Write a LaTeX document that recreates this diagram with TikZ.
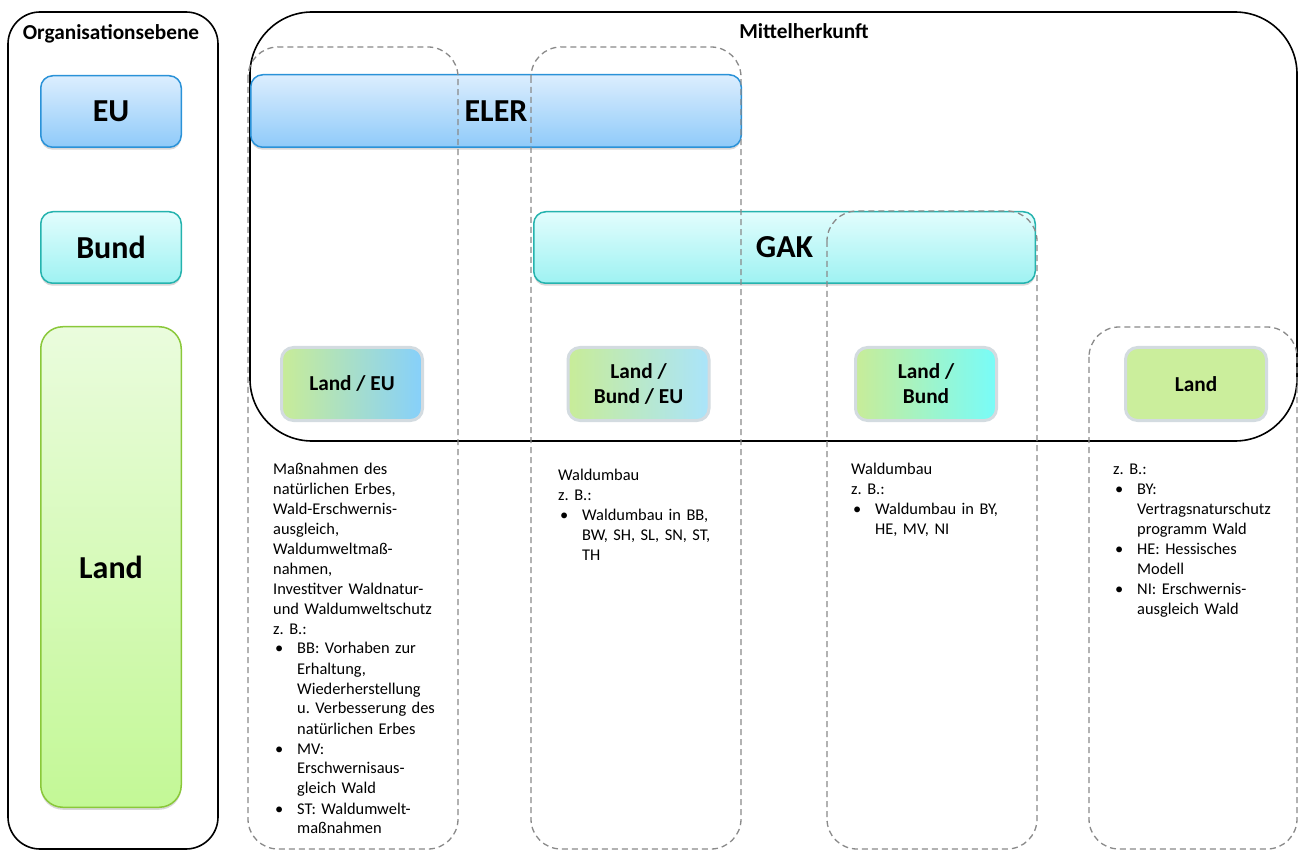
\documentclass[tikz,border=0pt]{standalone}
\usepackage{fontspec}
\setmainfont{Carlito}
\usetikzlibrary{shadows}
\frenchspacing
\definecolor{euTop}{HTML}{DCEEFE}
\definecolor{euBot}{HTML}{8FCAF9}
\definecolor{euLine}{HTML}{2A92D8}
\definecolor{bdTop}{HTML}{E2FDFD}
\definecolor{bdBot}{HTML}{9EF2F2}
\definecolor{bdLine}{HTML}{25B3AE}
\definecolor{ldTop}{HTML}{EAFCDD}
\definecolor{ldBot}{HTML}{C3F896}
\definecolor{ldLine}{HTML}{8AC83A}
\definecolor{smLine}{HTML}{D3DBE0}
\definecolor{smGreen}{HTML}{C8EC98}
\definecolor{smBlue}{HTML}{86D0FB}
\definecolor{smCyan}{HTML}{72FBF7}
\definecolor{smLBlue}{HTML}{AAE4FB}
\definecolor{smCyanB}{HTML}{78FCF9}
\definecolor{smLand}{HTML}{CBEE9C}
\definecolor{dashgray}{HTML}{8A8A8A}
\newcommand{\bul}{\makebox[24pt][l]{\hspace{2pt}\textbullet}}
\newcommand{\ind}{\hspace*{24pt}}
\begin{document}
\frenchspacing
\begin{tikzpicture}[x=1pt,y=-1pt,
  outerbox/.style={draw=black, line width=1.6pt},
  dashbox/.style={draw=dashgray, line width=1.3pt, dash pattern=on 6pt off 4pt, rounded corners=30pt},
  header/.style={font=\fontsize{21.3}{25}\selectfont\bfseries, inner sep=0pt, anchor=base},
  colbox/.style={rectangle, line width=1.5pt, inner sep=0pt,
    font=\fontsize{32}{38}\selectfont\bfseries,
    drop shadow={shadow xshift=0pt, shadow yshift=-2.5pt, opacity=0.25, fill=black!60}},
  eustyle/.style={colbox, draw=euLine, top color=euTop, bottom color=euBot, rounded corners=12pt},
  bundstyle/.style={colbox, draw=bdLine, top color=bdTop, bottom color=bdBot, rounded corners=12pt},
  landstyle/.style={colbox, draw=ldLine, top color=ldTop, bottom color=ldBot, rounded corners=22pt},
  smallbox/.style={rectangle, rounded corners=12pt, draw=smLine, line width=3pt,
    minimum width=141pt, minimum height=73pt, inner sep=0pt, align=center,
    font=\fontsize{21.3}{25}\selectfont\bfseries},
  body/.style={anchor=base west, inner sep=0pt, text width=200pt, align=left,
    font=\fontsize{16.4}{20}\selectfont\frenchspacing}
]
\useasboundingbox (0,0) rectangle (1299,850);
\fill[white] (0,0) rectangle (1299,850);

% outer frames
\draw[outerbox, rounded corners=32pt] (8,12) rectangle (218,849);
\draw[outerbox, rounded corners=62pt] (250,12) rectangle (1297,441);
\node[header] (orgtitle) at (111,39.5) {Organisationsebene};
\node[header] (mittitle) at (804,39) {Mittelherkunft};

% organisation levels
\node[eustyle, minimum width=140.5pt, minimum height=71.5pt] (eu) at (111,111.5) {EU};
\node[bundstyle, minimum width=140.5pt, minimum height=71.5pt] (bund) at (111,247.5) {Bund};
\node[landstyle, minimum width=140.5pt, minimum height=480.5pt] (land) at (111,567) {Land};

% funding bars
\node[eustyle, minimum width=490.5pt, minimum height=72.5pt] (eler) at (496,111) {ELER};
\node[bundstyle, minimum width=501.5pt, minimum height=71.5pt] (gak) at (784.5,247.5) {GAK};

% small boxes
\node[smallbox, left color=smGreen, right color=smBlue] (landeu) at (352,384) {Land / EU};
\node[smallbox, left color=smGreen, middle color=smCyan, right color=smLBlue] (landbundeu) at (638.5,384) {Land /\\Bund / EU};
\node[smallbox, left color=smGreen, right color=smCyanB] (landbund) at (926,384) {Land /\\Bund};
\node[smallbox, fill=smLand] (landonly) at (1196,384) {Land};

% dashed groups
\draw[dashbox] (248,47) rectangle (458,849);
\draw[dashbox] (531,47) rectangle (741,849);
\draw[dashbox] (827,211) rectangle (1037,849);
\draw[dashbox] (1089,327) rectangle (1297,849);

% descriptions
\node[body] (txtone) at (273,474) {Maßnahmen des\\
natürlichen Erbes,\\
Wald-Erschwernis-\\
ausgleich,\\
Waldumweltmaß-\\
nahmen,\\
Investitver Waldnatur-\\
und Waldumweltschutz\\
z. B.:\\
\bul BB: Vorhaben zur\\
\ind Erhaltung,\\
\ind Wiederherstellung\\
\ind u. Verbesserung des\\
\ind natürlichen Erbes\\
\bul MV:\\
\ind Erschwernisaus-\\
\ind gleich Wald\\
\bul ST: Waldumwelt-\\
\ind maßnahmen};

\node[body] (txttwo) at (558,480) {Waldumbau\\
z. B.:\\
\bul Waldumbau in BB,\\
\ind BW, SH, SL, SN, ST,\\
\ind TH};

\node[body] (txtthree) at (851,474) {Waldumbau\\
z. B.:\\
\bul Waldumbau in BY,\\
\ind HE, MV, NI};

\node[body] (txtfour) at (1113,474) {z. B.:\\
\bul BY:\\
\ind Vertragsnaturschutz\\
\ind programm Wald\\
\bul HE: Hessisches\\
\ind Modell\\
\bul NI: Erschwernis-\\
\ind ausgleich Wald};
\end{tikzpicture}
\end{document}
